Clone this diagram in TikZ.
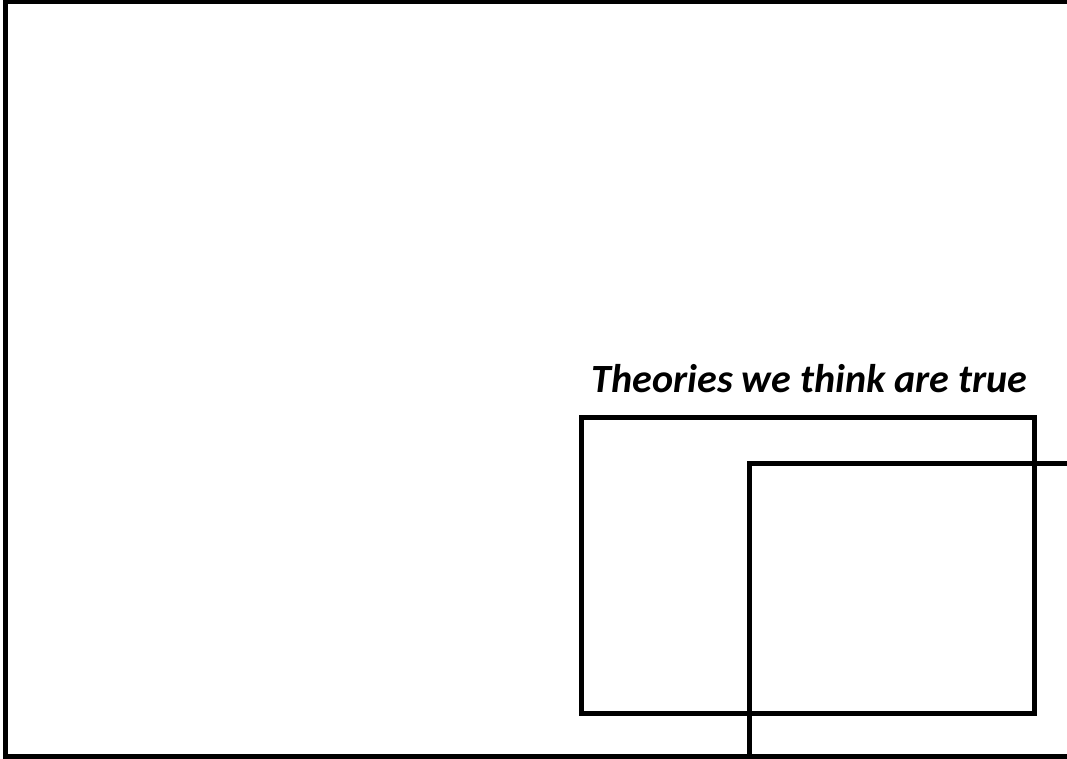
\documentclass[tikz,border=0pt]{standalone}
\usepackage{fontspec}
\setmainfont{Carlito}
\usetikzlibrary{positioning}
\definecolor{inkblack}{HTML}{000000}

\begin{document}
\begin{tikzpicture}[thickbox/.style={draw=inkblack, line width=3.56pt}]

% Canvas
\useasboundingbox (0,0) rectangle (26.675,18.975);
\clip (0,0) rectangle (26.675,18.975);
\fill[white] (0,0) rectangle (26.675,18.975);

% Outer frame (right side runs off the page)
\draw[thickbox] (27.5,18.925) -- (0.1375,18.925) -- (0.1375,0.0625) -- (27.5,0.0625);

% ================================================================
% Theories we think are true
% ================================================================
\draw[thickbox] (14.54,1.125) rectangle (25.86,8.525);
\node[text=inkblack, font=\fontsize{28.5}{32}\selectfont\bfseries\itshape,
      anchor=base] (truelabel) at (20.24,9.15) {Theories we think are true};

% Second box, cut by the page edge
\draw[thickbox] (27.5,7.375) -- (18.74,7.375) -- (18.74,-0.5);

\end{tikzpicture}
\end{document}
